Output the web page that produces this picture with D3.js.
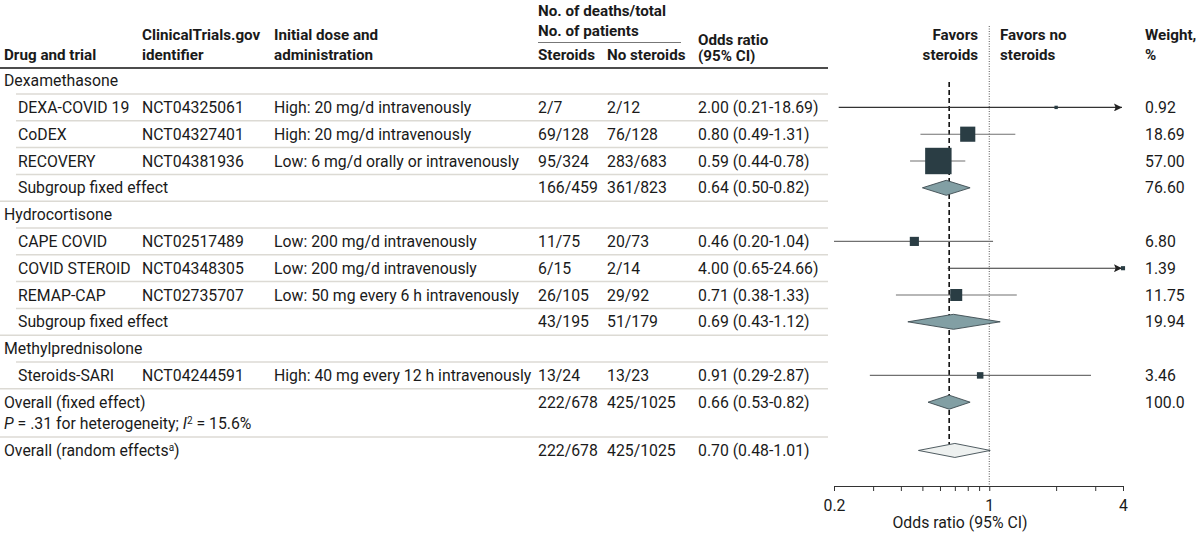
<!DOCTYPE html>
<html>
<head>
<title>Steroids and 28-day mortality forest plot</title>
<style>
body {
	margin: 0;
	background-color: #ffffff;
}

#chart {
	font-family: Roboto, "Open Sans", sans-serif;
	font-size: 15.8px;
}

#chart text {
	fill: #1a1a1a;
}

.hdr {
	font-weight: bold;
	font-size: 15.2px;
}
</style>
<script src="https://d3js.org/d3.v7.min.js"></script>
</head>
<body>
<svg id="chart" width="1200" height="539"></svg>
<script>
// groups and trials
var groupNames = ["Dexamethasone", "Hydrocortisone", "Methylprednisolone"];
var trialGroup = [0, 0, 0, 1, 1, 1, 2];
var trialNames = ["DEXA-COVID 19", "CoDEX", "RECOVERY", "CAPE COVID", "COVID STEROID", "REMAP-CAP", "Steroids-SARI"];
var trialIds = ["NCT04325061", "NCT04327401", "NCT04381936", "NCT02517489", "NCT04348305", "NCT02735707", "NCT04244591"];
var trialDoses = [
	"High: 20 mg/d intravenously",
	"High: 20 mg/d intravenously",
	"Low: 6 mg/d orally or intravenously",
	"Low: 200 mg/d intravenously",
	"Low: 200 mg/d intravenously",
	"Low: 50 mg every 6 h intravenously",
	"High: 40 mg every 12 h intravenously"
];
var trialSteroids = ["2/7", "69/128", "95/324", "11/75", "6/15", "26/105", "13/24"];
var trialNoSteroids = ["2/12", "76/128", "283/683", "20/73", "2/14", "29/92", "13/23"];
var trialOR = [2.00, 0.80, 0.59, 0.46, 4.00, 0.71, 0.91];
var trialLow = [0.21, 0.49, 0.44, 0.20, 0.65, 0.38, 0.29];
var trialHigh = [18.69, 1.31, 0.78, 1.04, 24.66, 1.33, 2.87];
var trialWeight = [0.92, 18.69, 57.00, 6.80, 1.39, 11.75, 3.46];

// subgroup fixed effects (dexamethasone, hydrocortisone)
var subSteroids = ["166/459", "43/195"];
var subNoSteroids = ["361/823", "51/179"];
var subOR = [0.64, 0.69];
var subLow = [0.50, 0.43];
var subHigh = [0.82, 1.12];
var subWeight = [76.60, 19.94];

// overall fixed / random
var overallSteroids = ["222/678", "222/678"];
var overallNoSteroids = ["425/1025", "425/1025"];
var overallOR = [0.66, 0.70];
var overallLow = [0.53, 0.48];
var overallHigh = [0.82, 1.01];
var overallWeight = ["100.0", ""];

// axis
var axisTicks = [0.2, 0.3, 0.4, 0.5, 0.6, 0.7, 0.8, 0.9, 1, 2, 3, 4];
var axisLabels = [0.2, 1, 4];

function fmt(v) {
	return v.toFixed(2);
}
function ciText(or, lo, hi) {
	return fmt(or) + " (" + fmt(lo) + "-" + fmt(hi) + ")";
}

// build the row list
var rows = [];
for (var g = 0; g < groupNames.length; g++) {
	rows.push({type: "group", label: groupNames[g]});
	for (var i = 0; i < trialNames.length; i++) {
		if (trialGroup[i] != g) continue;
		rows.push({type: "trial", label: trialNames[i], id: trialIds[i], dose: trialDoses[i],
			s: trialSteroids[i], ns: trialNoSteroids[i], or: trialOR[i], lo: trialLow[i], hi: trialHigh[i],
			w: trialWeight[i].toFixed(2)});
	}
	if (g < subOR.length) {
		rows.push({type: "sub", label: "Subgroup fixed effect", s: subSteroids[g], ns: subNoSteroids[g],
			or: subOR[g], lo: subLow[g], hi: subHigh[g], w: subWeight[g].toFixed(2)});
	}
}
rows.push({type: "fixed", label: "Overall (fixed effect)", s: overallSteroids[0], ns: overallNoSteroids[0],
	or: overallOR[0], lo: overallLow[0], hi: overallHigh[0], w: overallWeight[0]});
rows.push({type: "note"});
rows.push({type: "random", label: "Overall (random effects", s: overallSteroids[1], ns: overallNoSteroids[1],
	or: overallOR[1], lo: overallLow[1], hi: overallHigh[1], w: overallWeight[1]});

// row index -> y position (note row sits a bit closer)
var rowPos = rows.map(function(r, i) { return i < 13 ? i : i - 0.2; });
var y = d3.scaleLinear().domain([0, 1]).range([80.6, 107.4]);
var x = d3.scaleLog().domain([0.2, 4]).range([834, 1123]);

var svg = d3.select("#chart");

var col = {drug: 4, indent: 18, id: 142, dose: 274, s: 538, ns: 607, or: 698, weight: 1145};
var tableRight = 828;

// header
function hdr(tx, ty, t, anchor) {
	svg.append("text").attr("class", "hdr").attr("x", tx).attr("y", ty)
		.attr("text-anchor", anchor || "start").text(t);
}
hdr(col.drug, 60, "Drug and trial");
hdr(col.id, 40, "ClinicalTrials.gov");
hdr(col.id, 60, "identifier");
hdr(col.dose, 40, "Initial dose and");
hdr(col.dose, 60, "administration");
hdr(col.s, 16, "No. of deaths/total");
hdr(col.s, 36, "No. of patients");
hdr(col.s, 60, "Steroids");
hdr(col.ns, 60, "No steroids");
hdr(col.or, 45, "Odds ratio");
hdr(col.or, 61, "(95% CI)");
hdr(978, 40, "Favors", "end");
hdr(978, 60, "steroids", "end");
hdr(1000, 40, "Favors no");
hdr(1000, 60, "steroids");
hdr(col.weight, 40, "Weight,");
hdr(col.weight, 60, "%");

svg.append("line").attr("x1", col.s).attr("x2", 681).attr("y1", 42.5).attr("y2", 42.5)
	.attr("stroke", "#777").attr("stroke-width", 1.2);
svg.append("line").attr("x1", 0).attr("x2", tableRight).attr("y1", 68).attr("y2", 68)
	.attr("stroke", "#111").attr("stroke-width", 1.6);

// separators
rows.forEach(function(r, i) {
	if (i >= 12 && r.type != "note") return;
	var next = rows[i + 1];
	var indent = next && (next.type == "trial" || next.type == "sub");
	svg.append("line")
		.attr("x1", indent ? col.indent - 2 : 0).attr("x2", tableRight)
		.attr("y1", y(rowPos[i] + 0.5)).attr("y2", y(rowPos[i] + 0.5))
		.attr("stroke", "#dcdad4").attr("stroke-width", 1.5);
});

// table text
rows.forEach(function(r, i) {
	var ty = y(rowPos[i]);
	var t = function(tx, s) {
		return svg.append("text").attr("x", tx).attr("y", ty).attr("dy", "0.36em").text(s);
	};
	if (r.type == "group") {
		t(col.drug, r.label);
		return;
	}
	if (r.type == "note") {
		var n = svg.append("text").attr("x", col.drug).attr("y", ty).attr("dy", "0.36em");
		n.append("tspan").attr("font-style", "italic").text("P");
		n.append("tspan").text(" = .31 for heterogeneity; ");
		n.append("tspan").attr("font-style", "italic").text("I");
		n.append("tspan").attr("font-size", "10px").attr("dy", "-0.55em").text("2");
		n.append("tspan").attr("dy", "0.35em").text(" = 15.6%");
		return;
	}
	if (r.type == "trial") {
		t(col.indent, r.label);
		t(col.id, r.id);
		t(col.dose, r.dose);
	} else if (r.type == "sub") {
		t(col.indent, r.label);
	} else if (r.type == "random") {
		var lab = t(col.drug, r.label);
		lab.append("tspan").attr("font-size", "10px").attr("dy", "-0.5em").text("a");
		lab.append("tspan").attr("dy", "0.32em").text(")");
	} else {
		t(col.drug, r.label);
	}
	t(col.s, r.s);
	t(col.ns, r.ns);
	t(col.or, ciText(r.or, r.lo, r.hi));
	if (r.w) t(col.weight, r.w);
});

// reference lines
svg.append("line").attr("x1", x(1)).attr("x2", x(1)).attr("y1", 26).attr("y2", 486)
	.attr("stroke", "#555").attr("stroke-width", 1).attr("stroke-dasharray", "1,1.5");
svg.append("line").attr("x1", x(overallOR[0])).attr("x2", x(overallOR[0])).attr("y1", 82).attr("y2", 444)
	.attr("stroke", "#111").attr("stroke-width", 1.6).attr("stroke-dasharray", "5,3");

// arrow marker
svg.append("defs").append("marker")
	.attr("id", "arrow").attr("viewBox", "0 0 10 10").attr("refX", 10).attr("refY", 5)
	.attr("markerWidth", 11).attr("markerHeight", 8).attr("markerUnits", "userSpaceOnUse")
	.attr("orient", "auto")
	.append("path").attr("d", "M0,0 L10,5 L0,10 L2,5 Z").attr("fill", "#222");

// forest marks
rows.forEach(function(r, i) {
	var cy = y(rowPos[i]);
	if (r.type == "trial") {
		var over = r.hi > 4;
		var ln = svg.append("line")
			.attr("x1", x(Math.max(r.lo, 0.2))).attr("x2", x(Math.min(r.hi, 4)) - (over ? 1 : 0))
			.attr("y1", cy).attr("y2", cy)
			.attr("stroke", over ? "#333" : "#707070").attr("stroke-width", 1.1);
		if (over) ln.attr("marker-end", "url(#arrow)");
		var side = 3.5 * Math.sqrt(r.w);
		svg.append("rect")
			.attr("x", x(r.or) - side / 2).attr("y", cy - side / 2)
			.attr("width", side).attr("height", side)
			.attr("fill", "#2a3d44");
	} else if (r.type == "sub" || r.type == "fixed" || r.type == "random") {
		var h = r.type == "sub" ? 7.5 : 7;
		var pts = [[x(r.lo), cy], [x(r.or), cy - h], [x(r.hi), cy], [x(r.or), cy + h]];
		svg.append("polygon")
			.attr("points", pts.map(function(p) { return p.join(","); }).join(" "))
			.attr("fill", r.type == "random" ? "#eef1f0" : "#829fa4")
			.attr("stroke", "#3d4b50").attr("stroke-width", 0.9);
	}
});

// x axis
var axis = d3.axisBottom(x)
	.tickValues(axisTicks)
	.tickSize(5)
	.tickSizeOuter(0)
	.tickPadding(9)
	.tickFormat(function(d) { return axisLabels.indexOf(d) >= 0 ? d : ""; });
var ax = svg.append("g").attr("transform", "translate(0,486)").call(axis);
ax.select(".domain").attr("stroke", "#333").attr("stroke-width", 1.1);
ax.selectAll(".tick line").attr("stroke", "#333");
ax.selectAll(".tick text").attr("font-size", "15.8px").attr("font-family", "Roboto, sans-serif").style("fill", "#1a1a1a");

svg.append("text").attr("x", 960).attr("y", 528).attr("text-anchor", "middle").text("Odds ratio (95% CI)");
</script>
</body>
</html>
